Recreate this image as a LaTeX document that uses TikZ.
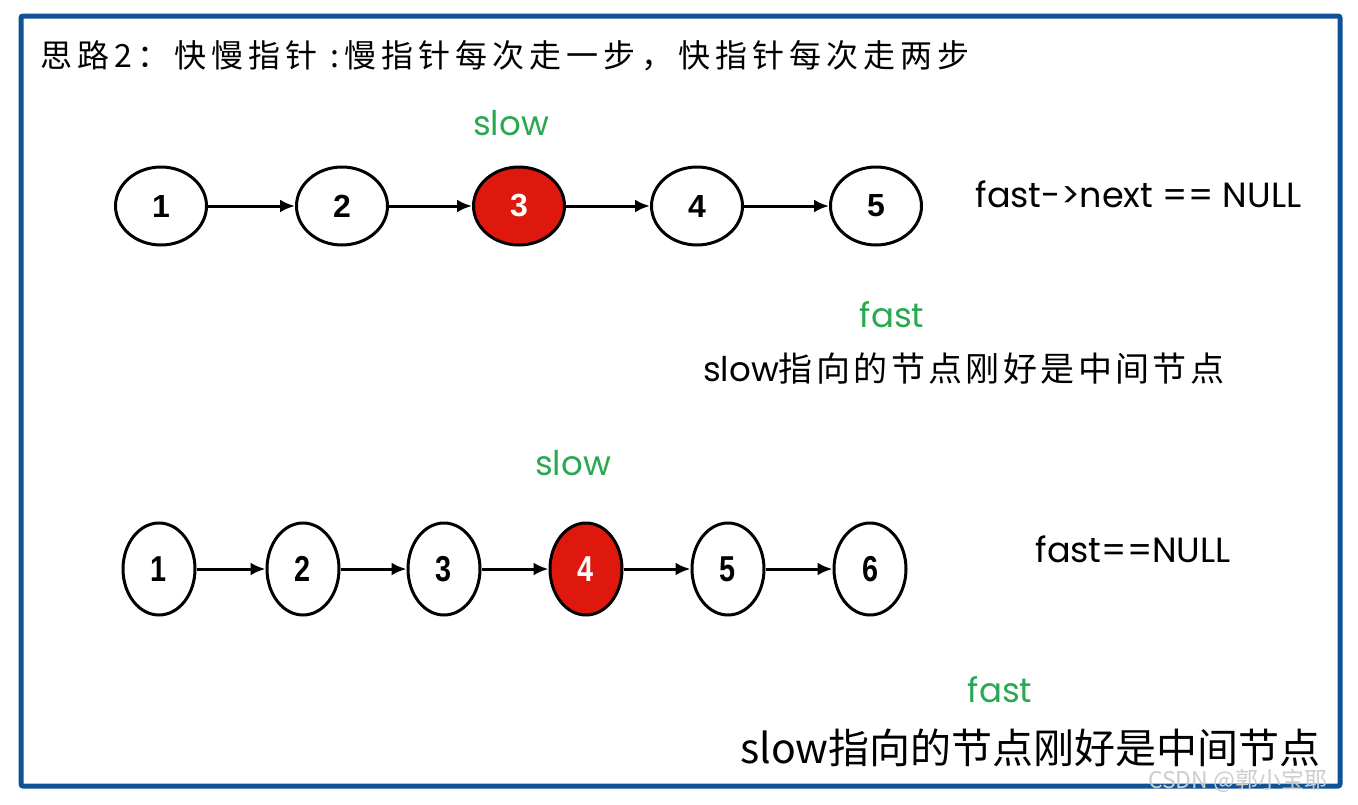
\documentclass[tikz,border=0pt]{standalone}
\usepackage{fontspec}
\setmainfont{Liberation Sans}
\newfontfamily\cjkfont{Noto Sans CJK SC}
\newfontfamily\cjkwidefont[LetterSpace=10]{Noto Sans CJK SC}
\newfontfamily\titlefont[LetterSpace=16]{Noto Sans CJK SC}
\newfontfamily\gothicfont{Poppins}
\newfontfamily\narrowfont[FakeStretch=0.8]{Liberation Sans}
\usetikzlibrary{shapes.geometric,arrows.meta}
\definecolor{frameblue}{RGB}{16,82,150}
\definecolor{nodered}{RGB}{222,24,12}
\definecolor{ptrgreen}{RGB}{40,168,80}

\begin{document}
\begin{tikzpicture}
  [x=1pt, y=-1pt,
   elem/.style={ellipse, draw=black, line width=3pt, fill=white, inner sep=0pt},
   rowa/.style={elem, minimum width=91pt, minimum height=78pt, font=\fontsize{32}{32}\selectfont\bfseries},
   rowb/.style={elem, minimum width=72pt, minimum height=92pt, font=\narrowfont\fontsize{36}{36}\selectfont\bfseries},
   hit/.style={fill=nodered, text=white},
   ptr/.style={text=ptrgreen, anchor=base, font=\gothicfont\fontsize{34}{34}\selectfont},
   cond/.style={anchor=base west, font=\gothicfont\fontsize{35}{35}\selectfont},
   link/.style={-{Latex[length=15pt,width=13pt]}, line width=3pt}]
  \useasboundingbox (0,0) rectangle (1358,804);
  \draw[frameblue, line width=5pt, rounded corners=2pt] (21,16) rectangle (1340,786);

  \node[anchor=base west, inner sep=0pt, font=\titlefont\fontsize{32}{32}\selectfont] (title) at (40,67)
    {思路2：快慢指针 :慢指针每次走一步，快指针每次走两步};

  % odd length
  \node[ptr] (slowa) at (511,135) {slow};
  \node[rowa] (a1) at (161,206) {1};
  \node[rowa] (a2) at (342,206) {2};
  \node[rowa, hit] (a3) at (519,206) {3};
  \node[rowa] (a4) at (697,206) {4};
  \node[rowa] (a5) at (876,206) {5};
  \node[cond] (conda) at (972,207) {fast->next == NULL};
  \node[ptr] (fasta) at (892,327) {fast};
  \node[anchor=base west, inner sep=0pt, font=\fontsize{34}{34}\selectfont] (notea) at (703,381)
    {{\gothicfont slow}{\cjkwidefont 指向的节点刚好是中间节点}};

  \foreach \from/\to in {a1/a2,a2/a3,a3/a4,a4/a5}
  \draw[link] (\from) -- (\to);

  % even length
  \node[ptr] (slowb) at (573,475) {slow};
  \node[rowb] (b1) at (159,569) {1};
  \node[rowb] (b2) at (303,569) {2};
  \node[rowb] (b3) at (444,569) {3};
  \node[rowb, hit] (b4) at (586,569) {4};
  \node[rowb] (b5) at (728,569) {5};
  \node[rowb] (b6) at (870,569) {6};
  \node[cond] (condb) at (1032,562) {fast==NULL};
  \node[ptr] (fastb) at (1000,702) {fast};
  \node[anchor=base west, inner sep=0pt, font=\cjkfont\fontsize{41}{41}\selectfont] (noteb) at (740,763)
    {slow指向的节点刚好是中间节点};

  \foreach \from/\to in {b1/b2,b2/b3,b3/b4,b4/b5,b5/b6}
  \draw[link] (\from) -- (\to);

  \node[anchor=base west, inner sep=0pt, text=gray!40, font=\cjkfont\fontsize{23}{23}\selectfont] (mark) at (1148,788)
    {CSDN @郭小宝耶};
\end{tikzpicture}
\end{document}
